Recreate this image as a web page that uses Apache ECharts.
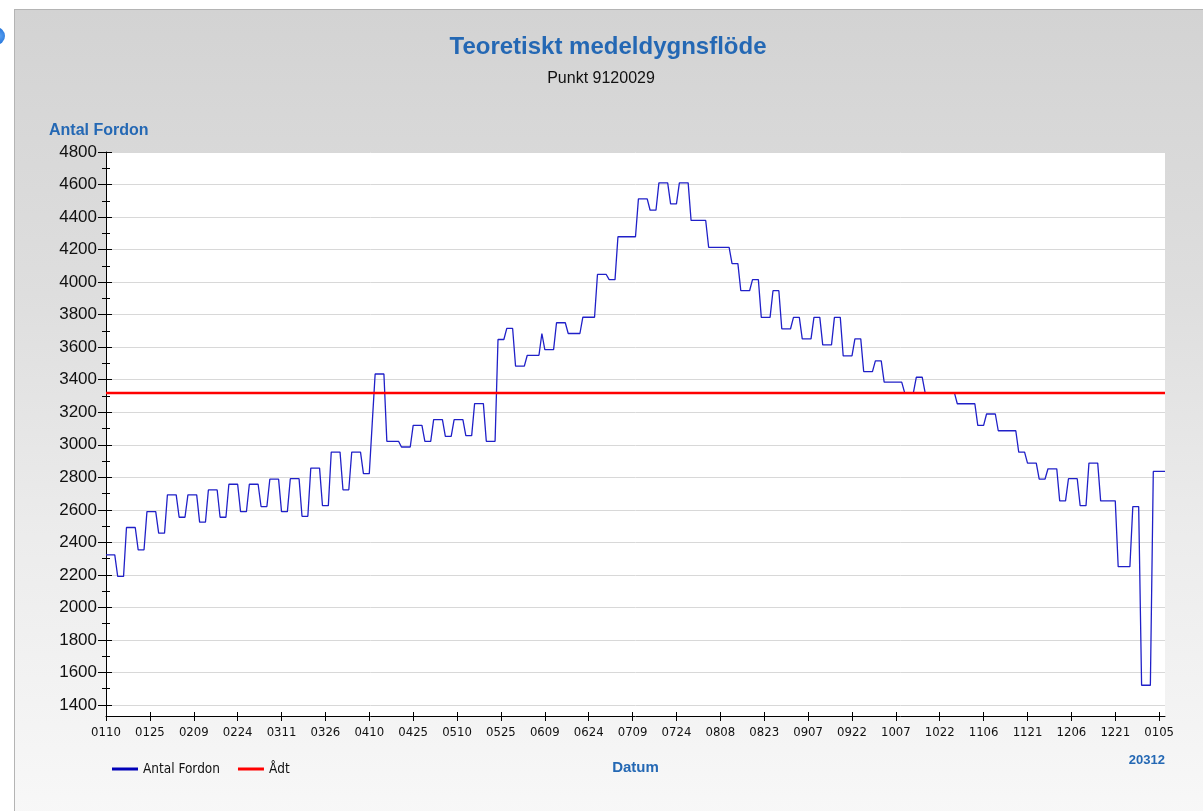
<!DOCTYPE html>
<html>
<head>
<meta charset="utf-8">
<script src="https://cdn.jsdelivr.net/npm/echarts@6/dist/echarts.min.js"></script>
<style>
    html, body { margin: 0; padding: 0; background: #fff; overflow: hidden; }
    #panel {
        position: absolute; left: 14px; top: 9px; width: 1200px; height: 810px;
        border-left: 1px solid #b4b4b4; border-top: 1px solid #b4b4b4;
        background: linear-gradient(to bottom, #d3d3d3 0%, #dedede 35%, #ececec 65%, #f8f8f8 100%);
    }
    #dot {
        position: absolute; left: -13px; top: 27px; width: 18px; height: 18px; border-radius: 50%;
        background: radial-gradient(circle at 70% 50%, #5aa0f0 0%, #1c6fd8 60%, #0d4fb0 100%);
    }
    #main { position: absolute; left: 0; top: 0; width: 1203px; height: 811px; }
</style>
</head>
<body>
<div id="dot"></div>
<div id="panel"></div>
<div id="main"></div>
<script>
    //dagliga värden, 10 jan -> 7 jan året efter
    var firstDay = 10;
    var monthCodes = ['01', '02', '03', '04', '05', '06', '07', '08', '09', '10', '11', '12', '01'];

    var jan = [2323, 2323, 2323, 2323, 2190, 2190, 2190, 2491, 2491, 2491, 2491, 2354, 2354, 2354,
        2589, 2589, 2589, 2589, 2456, 2456, 2456, 2692];
    var feb = [2692, 2692, 2692, 2554, 2554, 2554, 2692, 2692, 2692, 2692, 2524, 2524, 2524,
        2722, 2722, 2722, 2722, 2554, 2554, 2554, 2757, 2757, 2757, 2757, 2589, 2589, 2589, 2757];
    var mar = [2757, 2757, 2757, 2620, 2620, 2620, 2788, 2788, 2788, 2788, 2589, 2589, 2589,
        2791, 2791, 2791, 2791, 2560, 2560, 2560, 2856, 2856, 2856, 2856, 2625, 2625, 2625,
        2955, 2955, 2955, 2955];
    var apr = [2723, 2723, 2723, 2955, 2955, 2955, 2955, 2822, 2822, 2822, 3130,
        3435, 3435, 3435, 3435, 3021, 3021, 3021, 3021, 3021, 2986, 2986, 2986, 2986,
        3119, 3119, 3119, 3119, 3021, 3021];
    var may = [3021, 3154, 3154, 3154, 3154, 3051, 3051, 3051, 3154, 3154, 3154, 3154,
        3056, 3056, 3056, 3253, 3253, 3253, 3253, 3021, 3021, 3021, 3021,
        3647, 3647, 3647, 3715, 3715, 3715, 3483, 3483];
    var jun = [3483, 3483, 3550, 3550, 3550, 3550, 3550, 3684, 3585, 3585, 3585, 3585,
        3750, 3750, 3750, 3750, 3684, 3684, 3684, 3684, 3684, 3784, 3784, 3784, 3784, 3784,
        4047, 4047, 4047, 4047];
    var jul = [4015, 4015, 4015, 4279, 4279, 4279, 4279, 4279, 4279, 4279, 4512, 4512, 4512, 4512,
        4442, 4442, 4442, 4610, 4610, 4610, 4610, 4481, 4481, 4481, 4610, 4610, 4610, 4610,
        4379, 4379, 4379];
    var aug = [4379, 4379, 4379, 4214, 4214, 4214, 4214, 4214, 4214, 4214, 4214, 4114, 4114, 4114,
        3947, 3947, 3947, 3947, 4015, 4015, 4015, 3783, 3783, 3783, 3783, 3947, 3947, 3947,
        3713, 3713, 3713];
    var sep = [3713, 3783, 3783, 3783, 3651, 3651, 3651, 3651, 3783, 3783, 3783, 3614, 3614, 3614, 3614,
        3783, 3783, 3783, 3546, 3546, 3546, 3546, 3651, 3651, 3651, 3450, 3450, 3450, 3450, 3516];
    var oct = [3516, 3516, 3385, 3385, 3385, 3385, 3385, 3385, 3385, 3320, 3320, 3320, 3320,
        3415, 3415, 3415, 3320, 3320, 3320, 3320, 3320, 3320, 3320, 3320, 3320, 3320, 3320,
        3252, 3252, 3252, 3252];
    var nov = [3252, 3252, 3252, 3119, 3119, 3119, 3189, 3189, 3189, 3189,
        3086, 3086, 3086, 3086, 3086, 3086, 3086, 2955, 2955, 2955, 2887, 2887, 2887, 2887,
        2789, 2789, 2789, 2852, 2852, 2852];
    var dec = [2852, 2655, 2655, 2655, 2791, 2791, 2791, 2791, 2625, 2625, 2625, 2887, 2887, 2887, 2887,
        2655, 2655, 2655, 2655, 2655, 2655, 2250, 2250, 2250, 2250, 2250, 2620, 2620, 2620, 1521, 1521];
    var jan2 = [1521, 1521, 2836, 2836, 2836, 2836, 2836];

    var monthValues = [jan, feb, mar, apr, may, jun, jul, aug, sep, oct, nov, dec, jan2];
    var adt = 3318;

    var yMin = 1400, yMax = 4800, yStep = 200;
    var plotBottomValue = 1332;   //x-axeln ligger lite under 1400

    var dates = [], flow = [];
    monthValues.forEach(function (vals, m) {
        var start = m === 0 ? firstDay : 1;
        vals.forEach(function (v, i) {
            var day = start + i;
            dates.push(monthCodes[m] + (day < 10 ? '0' : '') + day);
            flow.push(v);
        });
    });

    var font = 'Liberation Sans, Arial, sans-serif';
    var narrow = 'Liberation Sans Narrow, Arial Narrow, DejaVu Sans Condensed, sans-serif';
    var blue = '#2468b4';
    var plain = function (v) { return String(v); };

    var chart = echarts.init(document.getElementById('main'), null, { renderer: 'canvas' });
    chart.setOption({
        animation: false,
        textStyle: { fontFamily: font },
        title: [{
            text: 'Teoretiskt medeldygnsflöde',
            left: 603, top: 30, textAlign: 'center',
            textStyle: { color: blue, fontSize: 24, fontWeight: 'bold', fontFamily: font }
        }, {
            text: 'Punkt 9120029',
            left: 596, top: 66, textAlign: 'center',
            textStyle: { color: '#111', fontSize: 16, fontWeight: 'normal', fontFamily: font }
        }],
        legend: {
            left: 107, top: 757, icon: 'rect', itemWidth: 26, itemHeight: 3, itemGap: 18,
            textStyle: { fontSize: 13.5, color: '#111', fontFamily: narrow },
            data: ['Antal Fordon', 'Ådt']
        },
        graphic: [{
            type: 'text', left: 49, top: 123,
            style: { text: 'Antal Fordon', fill: blue, font: 'bold 16px ' + font }
        }, {
            type: 'text', right: 38, top: 754,
            style: { text: '20312', fill: blue, font: 'bold 13px ' + font }
        }],
        grid: [
            { left: 106, top: 152, right: 38, bottom: 95, show: true, backgroundColor: '#ffffff', borderWidth: 0 },
            { left: 106, top: 152, right: 38, bottom: 106, show: false }
        ],
        xAxis: [{
            gridIndex: 0, type: 'category', data: dates, boundaryGap: false, position: 'bottom',
            axisLine: { lineStyle: { color: '#000', width: 1 } },
            axisTick: { interval: 14, length: 5, lineStyle: { color: '#000' } },
            axisLabel: { interval: 14, color: '#111', fontSize: 13, fontFamily: narrow, margin: 10 },
            splitLine: { show: false },
            name: 'Datum', nameLocation: 'middle', nameGap: 44,
            nameTextStyle: { color: blue, fontSize: 15, fontWeight: 'bold', fontFamily: font }
        }, {
            gridIndex: 0, type: 'category', data: dates, boundaryGap: false, position: 'bottom',
            axisLine: { show: false },
            axisTick: { inside: true, interval: 14, length: 4, lineStyle: { color: '#000' } },
            axisLabel: { show: false }, splitLine: { show: false }
        }, {
            gridIndex: 1, type: 'category', data: dates, boundaryGap: false, show: false
        }],
        yAxis: [{
            gridIndex: 0, type: 'value', min: plotBottomValue, max: yMax, position: 'left',
            axisLine: { show: true, lineStyle: { color: '#000', width: 1 } },
            axisTick: { show: false }, axisLabel: { show: false }, splitLine: { show: false }
        }, {
            gridIndex: 1, type: 'value', min: yMin, max: yMax, interval: yStep, position: 'left',
            axisLine: { show: false },
            axisTick: { show: true, length: 8, lineStyle: { color: '#000' } },
            minorTick: { show: true, splitNumber: 2, length: 4, lineStyle: { color: '#000' } },
            axisLabel: { color: '#111', fontSize: 17, fontFamily: font, margin: 9, formatter: plain },
            splitLine: { show: true, lineStyle: { color: '#d8d8d8', width: 1 } }
        }, {
            gridIndex: 1, type: 'value', min: yMin, max: yMax, interval: yStep, position: 'left', offset: 0,
            axisLine: { show: false },
            axisTick: { show: true, inside: true, length: 6, lineStyle: { color: '#000' } },
            minorTick: { show: true, splitNumber: 2, length: 4, lineStyle: { color: '#000' } },
            axisLabel: { show: false }, splitLine: { show: false }
        }],
        series: [{
            name: 'Antal Fordon', type: 'line', xAxisIndex: 0, yAxisIndex: 0,
            data: flow, symbol: 'none', showSymbol: false,
            lineStyle: { color: '#2020c8', width: 1.3 },
            itemStyle: { color: '#0000b8' }, z: 2
        }, {
            name: 'Ådt', type: 'line', xAxisIndex: 0, yAxisIndex: 0,
            data: [[dates[0], adt], [dates[dates.length - 1], adt]],
            symbol: 'none', showSymbol: false,
            lineStyle: { color: '#ff0000', width: 2.5 },
            itemStyle: { color: '#ff0000' }, z: 3
        }]
    });
</script>
</body>
</html>
